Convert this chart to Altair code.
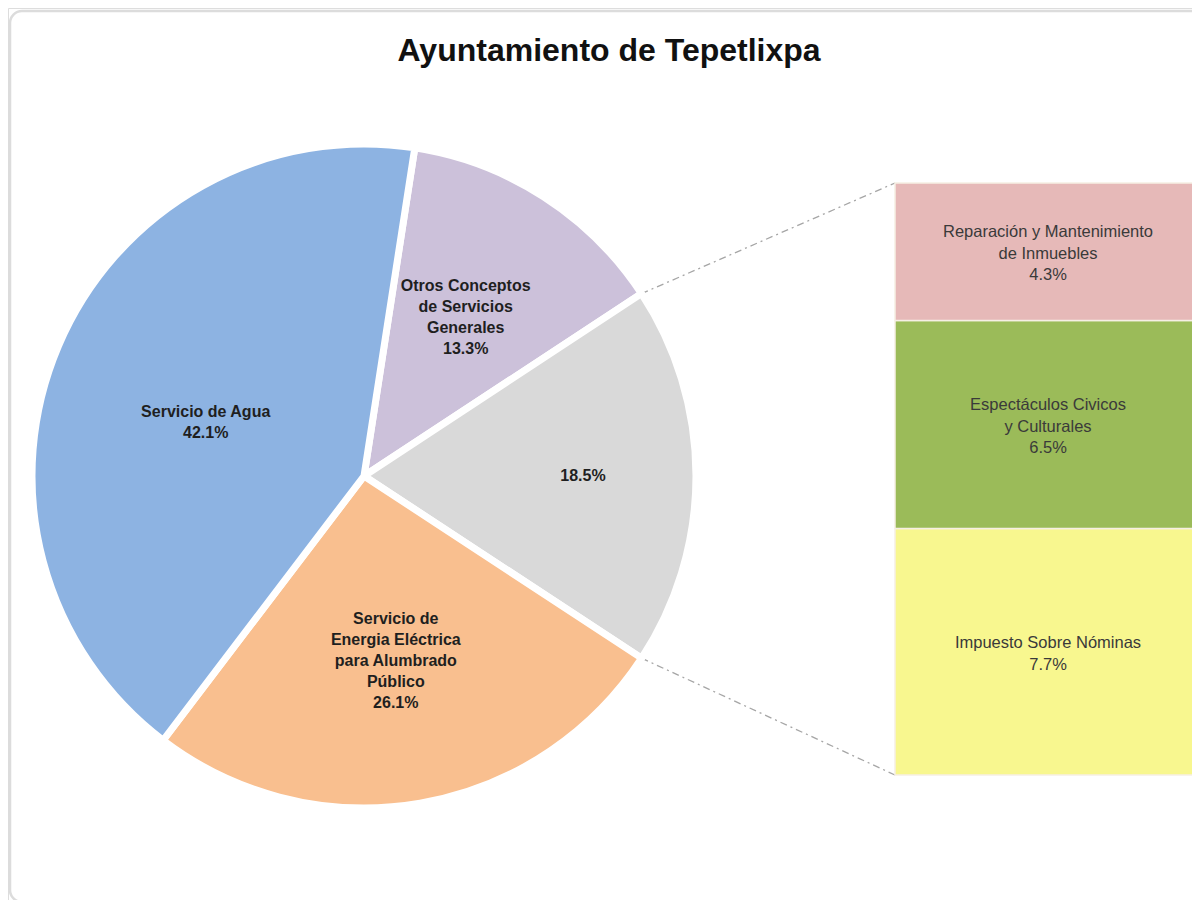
import math
import altair as alt
import pandas as pd

# ---------------- data ----------------
title_text = "Ayuntamiento de Tepetlixpa"

# pie slices, clockwise from the top
pie_order = [1, 2, 3, 4]
pie_names = [
    "Otros Conceptos de Servicios Generales",
    "Otros",
    "Servicio de Energia Eléctrica para Alumbrado Público",
    "Servicio de Agua",
]
pie_label_lines = [
    ["Otros Conceptos", "de Servicios", "Generales"],
    [],
    ["Servicio de", "Energia Eléctrica", "para Alumbrado", "Público"],
    ["Servicio de Agua"],
]
pie_values = [13.3, 18.5, 26.1, 42.1]
pie_colors = ["#CCC1DA", "#D9D9D9", "#F9BF8F", "#8DB3E2"]

# bar segments (breakdown of "Otros"), bottom to top
bar_names = [
    "Impuesto Sobre Nóminas",
    "Espectáculos Civicos y Culturales",
    "Reparación y Mantenimiento de Inmuebles",
]
bar_label_lines = [
    ["Impuesto Sobre Nóminas"],
    ["Espectáculos Civicos", "y Culturales"],
    ["Reparación y Mantenimiento", "de Inmuebles"],
]
bar_values = [7.7, 6.5, 4.3]
bar_colors = ["#F8F78F", "#9BBB59", "#E6B9B8"]

# ---------------- layout ----------------
W, H = 1184, 892
CX, CY, R = 356, 468, 332
START_DEG = 8.8
BAR_LEFT, BAR_RIGHT = 887, 1189
BAR_TOP, BAR_BOTTOM = 175, 767
FONT = "Liberation Sans"
PIE_LH = 21
BAR_LH = 21.5
# label placement (radius, extra vertical shift) per slice, in pie order
PIE_LABEL_POS = [(188, 0), (219, 0), (188, 0), (172, 14)]

pie_df = pd.DataFrame({
    "order": pie_order,
    "name": pie_names,
    "value": pie_values,
    "color": pie_colors,
    "label": ["\n".join(l + [f"{v:.1f}%"]) for l, v in zip(pie_label_lines, pie_values)],
    "n": [len(l) + 1 for l in pie_label_lines],
})

bar_df = pd.DataFrame({
    "name": bar_names,
    "value": bar_values,
    "color": bar_colors,
    "label": ["\n".join(l + [f"{v:.1f}%"]) for l, v in zip(bar_label_lines, bar_values)],
    "n": [len(l) + 1 for l in bar_label_lines],
})
bar_df["y1"] = bar_df["value"].cumsum()
bar_df["y0"] = bar_df["y1"] - bar_df["value"]
bar_df["mid"] = (bar_df["y0"] + bar_df["y1"]) / 2
bar_total = float(sum(bar_values))

# connector lines: from the edges of the "Otros" slice to the bar corners
total = sum(pie_values)
cum_before = sum(pie_values[:1])
a0 = math.radians(START_DEG + cum_before / total * 360)
a1 = math.radians(START_DEG + (cum_before + pie_values[1]) / total * 360)
conn_df = pd.DataFrame({
    "x0": [CX + R * math.sin(a0), CX + R * math.sin(a1)],
    "y0": [CY - R * math.cos(a0), CY - R * math.cos(a1)],
    "x1": [BAR_LEFT, BAR_LEFT],
    "y1": [BAR_TOP, BAR_BOTTOM],
})

# ---------------- chart ----------------
theta_scale = alt.Scale(range=[math.radians(START_DEG), math.radians(START_DEG) + 2 * math.pi])
color_scale = alt.Scale(domain=pie_names, range=pie_colors)

pie_base = alt.Chart(pie_df)
pie = pie_base.mark_arc(outerRadius=R, stroke="white", strokeWidth=7).encode(
    theta=alt.Theta("value:Q", stack=True, scale=theta_scale),
    order=alt.Order("order:Q"),
    color=alt.Color("name:N", scale=color_scale, legend=None),
    x=alt.value(CX),
    y=alt.value(CY),
)


def pie_text_layer(i):
    n = int(pie_df["n"][i])
    r, shift = PIE_LABEL_POS[i]
    return pie_base.mark_text(
        radius=r, font=FONT, fontSize=16, fontWeight="bold", color="#1f1f1f",
        lineBreak="\n", lineHeight=PIE_LH, align="center", baseline="middle",
        dy=-(n - 1) / 2 * PIE_LH + shift,
    ).encode(
        theta=alt.Theta("value:Q", stack=True, scale=theta_scale),
        order=alt.Order("order:Q"),
        text="label:N",
        x=alt.value(CX),
        y=alt.value(CY),
        opacity=alt.condition(f"datum.order == {pie_order[i]}", alt.value(1), alt.value(0)),
    )


pie_texts = [pie_text_layer(i) for i in range(len(pie_values))]

ybar = alt.Scale(domain=[0, bar_total], range=[BAR_BOTTOM, BAR_TOP], nice=False, zero=True)
bars = alt.Chart(bar_df).mark_rect(stroke="#f6efe4", strokeWidth=1.5, clip=True).encode(
    x=alt.value(BAR_LEFT),
    x2=alt.value(BAR_RIGHT),
    y=alt.Y("y0:Q", scale=ybar, axis=None),
    y2="y1:Q",
    fill=alt.Fill("color:N", scale=None),
)


def bar_text_layer(n):
    return alt.Chart(bar_df).transform_filter(f"datum.n == {n}").mark_text(
        font=FONT, fontSize=16.5, color="#3a3a3a", lineBreak="\n", lineHeight=BAR_LH,
        align="center", baseline="middle", dy=-(n - 1) / 2 * BAR_LH + 2,
    ).encode(
        x=alt.value((BAR_LEFT + BAR_RIGHT) / 2 + 2),
        y=alt.Y("mid:Q", scale=ybar, axis=None),
        text="label:N",
    )


bar_texts = [bar_text_layer(n) for n in sorted(set(bar_df["n"]))]

connectors = alt.Chart(conn_df).mark_rule(
    color="#a6a6a6", strokeWidth=1.3, strokeDash=[7, 4, 2, 4]
).encode(
    x=alt.X("x0:Q", scale=None, axis=None),
    y=alt.Y("y0:Q", scale=None, axis=None),
    x2="x1:Q",
    y2="y1:Q",
)

border = alt.Chart(pd.DataFrame({"k": [0]})).mark_rect(
    fill="white", stroke="#dcdcdc", strokeWidth=2.5, cornerRadius=12, clip=True
).encode(
    x=alt.value(2), x2=alt.value(1240), y=alt.value(3), y2=alt.value(894),
)

title = alt.Chart(pd.DataFrame({"t": [title_text]})).mark_text(
    font=FONT, fontSize=32, fontWeight="bold", color="#111111",
    align="center", baseline="middle",
).encode(
    x=alt.value(601), y=alt.value(43), text="t:N",
)

chart = alt.layer(border, connectors, pie, *pie_texts, bars, *bar_texts, title).resolve_scale(
    x="independent", y="independent"
).properties(
    width=W, height=H, padding=0,
    autosize=alt.AutoSizeParams(type="none"),
).configure_view(stroke=None).configure(background="white")

chart.save("out.html", embed_options={"renderer": "svg", "actions": False})
